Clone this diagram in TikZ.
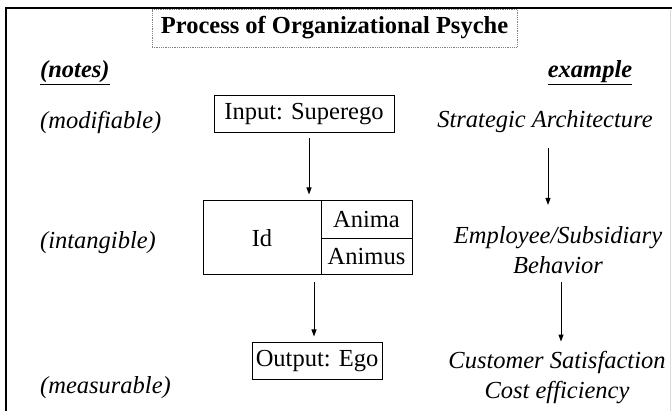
\documentclass[tikz,border=0pt]{standalone}
\usepackage{fontspec}
\setmainfont{Liberation Serif}
\usetikzlibrary{arrows.meta}
\begin{document}
\begin{tikzpicture}[x=1pt,y=-1pt,
  every node/.style={inner sep=0pt,font=\fontsize{24.5}{30}\selectfont},
  boxed/.style={draw,line width=1pt,minimum height=37pt},
  arr/.style={line width=1pt,-{Triangle[length=7pt,width=5pt]}},
  lefttxt/.style={anchor=west,font=\fontsize{24.5}{30}\selectfont\itshape},
  righttxt/.style={align=center,font=\fontsize{24.5}{30}\selectfont\itshape}]
\useasboundingbox (0,0) rectangle (672,411);
% frame
\draw[line width=2pt] (672,8) -- (6,8) -- (6,411);
\draw[gray!30,line width=1pt] (670,10) -- (670,411);
% title
\node[draw=gray,densely dotted,line width=0.8pt,minimum width=365pt,minimum height=38pt,font=\fontsize{24.5}{30}\selectfont\bfseries] (title) at (334.5,28) {Process of Organizational Psyche};
% headings
\node[anchor=west,font=\fontsize{24.5}{30}\selectfont\bfseries\itshape] (notes) at (40,73) {\underline{(notes)}};
\node[font=\fontsize{24.5}{30}\selectfont\bfseries\itshape] (example) at (590,73) {\underline{example}};
% left notes
\node[lefttxt] (modif) at (40,122) {(modifiable)};
\node[lefttxt] (intang) at (40,243) {(intangible)};
\node[lefttxt] (measur) at (40,388) {(measurable)};
% centre column
\node[boxed,minimum width=180pt] (input) at (304,114.5) {Input: Superego};
\node[boxed,minimum width=118pt,minimum height=74pt] (id) at (262,238) {Id};
\node[boxed,minimum width=91pt,minimum height=38pt] (anima) at (366.5,220) {Anima};
\node[boxed,minimum width=91pt,minimum height=36pt] (animus) at (366.5,257) {Animus};
\node[boxed,minimum width=130pt] (output) at (317,361.5) {Output: Ego};
\draw[arr] ([xshift=5pt,yshift=-5pt]input.south) -- ([xshift=5pt,yshift=6pt]input.south |- id.north);
\draw[arr] ([xshift=-3pt,yshift=-7pt]output.north |- id.south) -- ([xshift=-3pt,yshift=6pt]output.north);
% right column
\node[righttxt] (strat) at (545,122) {Strategic Architecture};
\node[righttxt] (emp) at (558,250) {Employee/Subsidiary\\Behavior};
\node[righttxt] (cust) at (557,378) {Customer Satisfaction\\Cost efficiency};
\draw[arr] ([xshift=3pt,yshift=-15pt]strat.south) -- ([xshift=3pt,yshift=-205pt]strat.south |- 0,0);
\draw[arr] ([xshift=3pt,yshift=-8pt]emp.south) -- ([xshift=3pt,yshift=10pt]emp.south |- cust.north);
\end{tikzpicture}
\end{document}
